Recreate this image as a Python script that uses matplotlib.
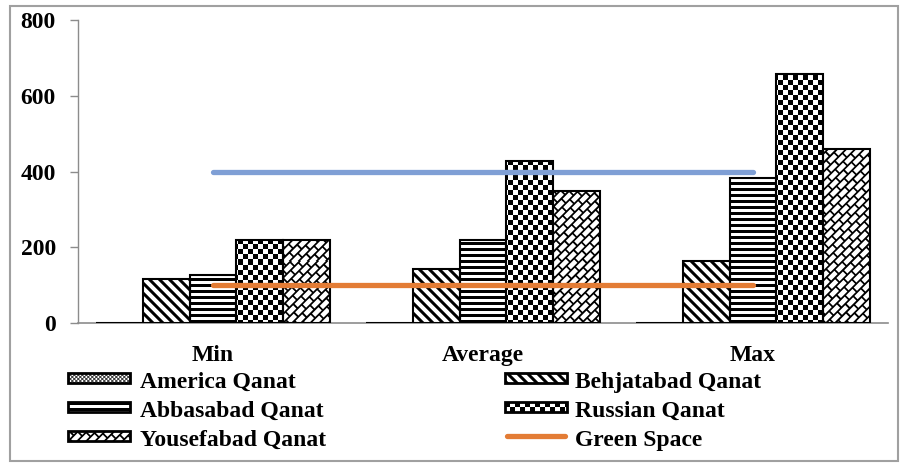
import numpy as np
import matplotlib
matplotlib.use("Agg")
import matplotlib.pyplot as plt
from matplotlib.patches import Rectangle

# ---- data ----
categories = ["Min", "Average", "Max"]
series_names = ["America Qanat", "Behjatabad Qanat", "Abbasabad Qanat",
                "Russian Qanat", "Yousefabad Qanat"]
america = [0, 0, 0]
behjatabad = [116, 142, 163]
abbasabad = [128, 219, 382]
russian = [220, 427, 657]
yousefabad = [220, 348, 459]
green_space = [100, 100, 100]
upper_limit = [400, 400, 400]
y_ticks = [0, 200, 400, 600, 800]

plt.rcParams['font.family'] = ['Liberation Serif', 'DejaVu Serif']
FS = 17

W, H, DPI = 900, 463, 100
fig = plt.figure(figsize=(W / DPI, H / DPI), dpi=DPI)

# axes placed in pixel units
AX_L, AX_R, AX_T, AX_B = 78, 888, 20, 323
ax = fig.add_axes([AX_L / W, (H - AX_B) / H, (AX_R - AX_L) / W, (AX_B - AX_T) / H])


def texture(kind, h, w, ss=4):
    """Gray-level fill pattern (1 = white, 0 = black), supersampled."""
    yy, xx = np.mgrid[0:h * ss, 0:w * ss].astype(float)
    yy = (yy + 0.5) / ss
    xx = (xx + 0.5) / ss
    if kind == "confetti":
        m = (((xx + yy) % 4) < 0.9) | (((xx - yy) % 4) < 0.9)
    elif kind == "wdiag":
        m = ((xx - yy) % 10) < 4.2
    elif kind == "hstripe":
        m = (yy % 6) < 3
    elif kind == "checker":
        m = ((np.floor(xx / 5) + np.floor(yy / 5)) % 2) == 0
    elif kind == "weave":
        p = (xx - yy) / np.sqrt(2)
        q = (xx + yy) / np.sqrt(2)
        pq, tq, pp, tp = 6.4, 1.8, 11.0, 1.8
        row = np.floor(q / pq)
        m = ((q % pq) < tq) | (((p + (row % 2) * pp / 2) % pp) < tp)
    else:
        m = np.zeros_like(xx, dtype=bool)
    dark = m.reshape(h, ss, w, ss).mean(axis=(1, 3))
    return 1.0 - dark


patterns = ["confetti", "wdiag", "hstripe", "checker", "weave"]
series_values = [america, behjatabad, abbasabad, russian, yousefabad]

x = np.arange(len(categories))
n = len(series_values)
bar_w = 0.174

tex_h, tex_w = AX_B - AX_T, AX_R - AX_L
for i, (vals, pat) in enumerate(zip(series_values, patterns)):
    bars = ax.bar(x + (i - (n - 1) / 2) * bar_w, vals, bar_w,
                  facecolor="none", edgecolor="black", linewidth=1.5, zorder=3)
    tex = texture(pat, tex_h, tex_w)
    for b in bars:
        im = ax.imshow(tex, cmap="gray", vmin=0, vmax=1, extent=(0, 1, 0, 1),
                       transform=ax.transAxes, aspect="auto",
                       interpolation="nearest", zorder=2)
        im.set_clip_path(b)

blue = "#7f9fd5"
orange = "#e37c35"
ax.plot(x, upper_limit, color=blue, lw=3.8, solid_capstyle="round", zorder=4)
ax.plot(x, green_space, color=orange, lw=3.8, solid_capstyle="round", zorder=4)

ax.set_xlim(-0.5, 2.5)
ax.set_ylim(0, 800)
ax.set_yticks(y_ticks)
ax.set_xticks(x, categories)
for s in ("top", "right"):
    ax.spines[s].set_visible(False)
axis_gray = "#8c8c8c"
ax.spines["left"].set_color(axis_gray)
ax.spines["bottom"].set_color(axis_gray)
ax.spines["left"].set_linewidth(1.0)
ax.spines["bottom"].set_linewidth(1.2)
ax.tick_params(axis="y", length=6, width=1, color=axis_gray, pad=10, labelsize=FS)
ax.tick_params(axis="x", length=0, pad=16, labelsize=FS)
for lbl in ax.get_xticklabels() + ax.get_yticklabels():
    lbl.set_fontweight("bold")

# ---- overlay in pixel coordinates: border and legend ----
lax = fig.add_axes([0, 0, 1, 1])
lax.set_xlim(0, W)
lax.set_ylim(H, 0)
lax.axis("off")

lax.add_patch(Rectangle((10, 6), 888, 455, fill=False, edgecolor="#a0a0a0", lw=1.5))

sw_w, sw_h = 62, 10
col_x = [(68, 140), (505, 575)]
row_y = [378, 407, 436]
entries = [(series_names[0], patterns[0]), (series_names[1], patterns[1]),
           (series_names[2], patterns[2]), (series_names[3], patterns[3]),
           (series_names[4], patterns[4]), ("Green Space", None)]
for k, (name, pat) in enumerate(entries):
    sx, tx = col_x[k % 2]
    yc = row_y[k // 2]
    if pat is None:
        lax.plot([sx + 2, sx + sw_w - 2], [yc, yc], color=orange, lw=3.8,
                 solid_capstyle="round")
    else:
        lax.imshow(texture(pat, sw_h, sw_w), cmap="gray", vmin=0, vmax=1,
                   extent=(sx, sx + sw_w, yc + sw_h / 2, yc - sw_h / 2),
                   origin="upper", aspect="auto", interpolation="nearest")
        lax.add_patch(Rectangle((sx, yc - sw_h / 2), sw_w, sw_h, fill=False,
                                edgecolor="black", lw=2.0))
    lax.text(tx, yc + 10, name, fontsize=FS, fontweight="bold", va="baseline",
             ha="left")

lax.set_xlim(0, W)
lax.set_ylim(H, 0)

fig.savefig("out.png", dpi=DPI)
